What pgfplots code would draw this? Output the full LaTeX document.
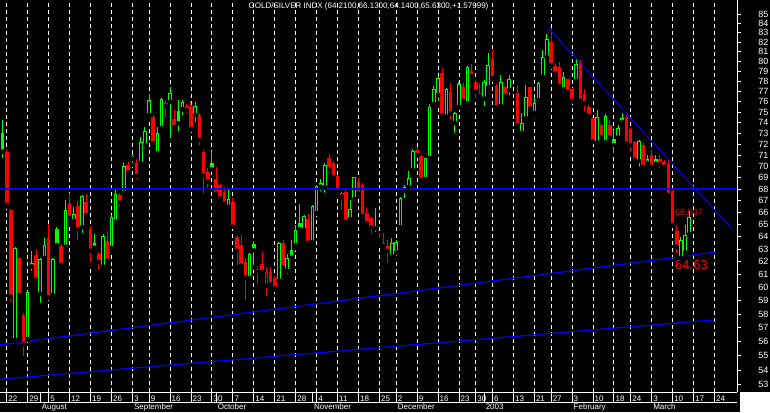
\documentclass[border=0pt]{standalone}
\usepackage{pgfplots}
\usepackage{pgfplotstable}
\pgfplotsset{compat=1.18}
\usepackage{fontspec}
\setmainfont{Liberation Sans}
\definecolor{cgreen}{RGB}{0,255,0}
\definecolor{cred}{RGB}{255,0,0}
\definecolor{cblue}{RGB}{0,0,255}
\pgfplotsset{
  wick/.style={only marks, mark=none, error bars/.cd, y dir=plus, y explicit, error mark=none, error bar style={line width=1pt, #1}},
  body/.style={only marks, mark=none, error bars/.cd, y dir=plus, y explicit, error mark=none, error bar style={line width=3.6pt, #1}},
  hole/.style={only marks, mark=none, error bars/.cd, y dir=plus, y explicit, error mark=none, error bar style={line width=1.6pt, black, shorten <=1pt, shorten >=1pt}},
}
\tikzset{month/.style={white, anchor=north west, inner sep=0pt, font=\fontsize{8}{9}\selectfont, xshift=1.5pt, yshift=-12pt}}
% green hollow: close > open
\pgfplotstableread{
x o h l c
3 56.13 63.15 56.06 63.07
6 56.20 59.74 56.13 59.64
7 61.62 62.88 61.12 61.89
9 59.51 62.30 58.68 62.20
10 62.28 63.93 62.14 63.34
12 59.41 62.30 59.28 62.20
15 63.20 67.08 63.15 66.22
17 65.33 66.46 64.97 65.89
19 64.78 67.51 64.15 67.37
24 61.62 64.23 61.35 64.07
26 63.07 65.81 62.93 65.61
27 65.25 68.00 65.14 67.60
29 67.70 70.28 67.68 70.04
31 70.70 71.13 70.13 70.95
33 70.28 72.71 70.22 72.19
34 71.91 73.64 71.42 73.24
35 74.74 76.76 74.55 76.18
37 71.19 73.64 70.97 73.02
38 73.49 76.35 73.33 76.25
40 76.02 77.43 72.40 76.84
43 75.29 76.18 74.52 76.02
46 74.74 76.02 73.89 75.60
54 66.50 67.93 66.33 67.17
59 60.70 62.70 60.50 62.60
66 60.54 63.60 60.50 63.46
68 61.30 62.60 60.90 62.28
70 63.34 64.97 63.07 64.57
72 64.57 65.80 64.35 65.70
74 63.53 66.65 63.40 66.57
75 65.95 68.37 65.90 68.28
77 68.17 70.28 67.52 70.13
83 65.45 67.03 65.33 66.28
84 67.15 69.10 66.78 69.04
89 64.70 66.42 64.23 64.92
93 62.42 63.90 62.35 63.47
94 62.73 63.74 62.28 63.60
95 64.78 67.34 64.70 67.23
96 67.85 68.37 67.03 68.22
97 68.17 69.63 67.76 68.95
98 69.69 71.55 69.60 71.42
101 68.87 70.80 68.70 70.74
102 70.74 75.80 70.60 75.50
103 75.80 77.55 75.38 77.23
104 76.67 78.55 75.90 78.32
106 74.58 77.36 74.46 77.23
108 74.01 75.03 72.86 74.96
109 75.53 77.95 75.45 77.75
111 75.86 79.55 75.80 79.42
115 76.35 78.15 75.38 77.98
116 77.43 80.90 77.36 79.65
119 75.60 78.65 75.50 77.98
121 77.16 78.65 76.45 78.22
124 73.08 74.96 72.86 74.00
125 74.43 77.65 74.35 76.45
127 74.96 76.50 74.60 75.86
128 76.18 77.95 76.10 77.82
129 78.50 81.20 78.40 80.43
130 80.43 82.90 80.35 82.30
134 77.23 78.98 76.70 78.42
137 78.08 80.35 77.90 79.76
142 72.17 75.20 72.10 74.60
144 72.17 74.80 72.10 74.65
147 72.65 73.80 72.50 73.50
152 70.50 72.40 69.80 72.27
154 70.30 71.00 70.10 70.70
162 62.28 64.00 62.20 63.75
163 62.73 64.97 62.40 64.15
164 64.21 66.13 64.14 65.63
}\gh
% green filled: close < open, above previous close
\pgfplotstableread{
x o h l c
0 73.08 74.27 70.58 71.34
13 64.64 64.78 63.07 63.34
22 63.47 64.23 63.05 63.12
42 75.12 76.18 73.02 73.96
50 70.34 71.42 69.69 69.77
60 63.41 63.65 61.55 62.93
69 62.93 63.75 62.30 62.33
71 65.11 66.75 64.40 64.65
76 68.52 68.87 67.66 68.22
146 72.45 73.30 71.04 71.95
148 74.43 74.96 74.00 74.10
156 70.70 71.00 70.10 70.25
}\gf
% red hollow
\pgfplotstableread{
x o h l c
63 60.14 61.55 59.18 61.17
81 67.32 67.79 66.00 67.71
114 76.58 77.82 76.18 76.90
}\rh
% red filled
\pgfplotstableread{
x o h l c
1 71.34 71.55 66.52 66.66
2 66.22 66.28 58.83 59.31
4 62.28 62.41 59.36 59.43
5 57.94 58.07 54.84 55.78
8 62.53 62.93 60.51 60.63
11 63.93 65.05 59.20 59.26
14 63.26 63.41 61.60 61.76
16 66.80 67.65 65.25 65.58
18 66.52 67.00 63.53 64.64
20 66.94 67.60 65.62 65.81
21 64.64 64.90 61.76 62.88
23 62.61 62.77 61.20 61.99
25 63.66 64.49 61.99 62.09
28 67.51 67.70 66.33 66.86
30 70.13 70.37 69.24 69.48
32 70.34 70.63 68.66 69.16
36 74.58 74.74 72.03 72.10
39 75.90 76.09 74.33 75.60
41 74.36 75.22 73.50 73.64
44 75.60 75.80 74.74 75.22
45 75.51 76.09 73.33 73.43
47 74.74 74.96 71.70 72.40
48 71.34 71.50 67.43 69.24
49 69.54 69.89 67.93 68.66
51 68.90 69.93 67.59 67.65
52 68.37 68.46 67.00 67.23
53 67.74 68.17 66.67 66.75
55 66.94 67.23 64.80 64.83
56 64.01 64.15 61.55 62.88
57 63.34 64.15 61.50 61.70
58 62.00 62.30 58.88 60.76
61 61.44 61.70 60.12 61.22
62 61.85 62.80 61.15 61.22
64 61.22 61.58 60.10 60.25
65 60.70 60.85 59.80 59.94
67 63.46 63.75 61.33 61.55
73 65.45 65.90 63.40 63.53
78 70.74 71.12 69.22 69.75
79 70.34 70.50 68.66 69.07
80 69.16 69.24 67.43 67.79
82 67.79 67.99 65.14 65.25
85 68.66 68.95 67.51 67.65
86 68.37 68.50 65.64 65.72
87 66.00 66.50 64.98 65.11
88 65.53 65.64 64.07 64.78
90 63.88 64.34 63.50 63.74
91 63.52 64.34 63.18 63.26
92 63.26 63.74 61.75 62.88
99 71.48 71.72 70.95 71.04
100 70.95 71.05 68.63 68.80
105 78.88 79.32 74.55 74.74
107 76.99 77.82 74.10 74.90
110 77.43 77.82 75.99 76.11
112 79.08 79.76 78.32 78.55
113 77.98 78.15 76.18 76.99
117 80.26 81.20 78.15 78.32
118 77.55 77.75 75.40 75.47
120 77.43 77.55 76.18 76.58
123 76.84 77.65 73.70 73.80
126 77.42 77.50 75.20 75.38
131 82.05 83.45 79.45 79.65
132 79.55 79.90 78.30 78.82
133 79.50 80.00 77.45 77.55
135 78.22 78.30 76.80 76.99
136 77.23 77.35 76.05 76.11
138 79.99 80.15 76.05 76.11
139 76.77 77.23 74.90 75.86
140 75.54 75.70 74.45 74.65
141 74.43 74.55 72.20 72.27
143 73.80 73.90 72.20 72.65
145 73.80 74.25 72.40 72.65
149 74.60 74.75 71.90 72.10
150 73.40 73.50 71.20 71.95
151 72.17 72.30 70.40 70.60
153 71.95 72.10 69.80 69.98
155 71.05 71.50 69.85 69.98
157 70.70 71.00 69.70 70.20
158 70.40 70.60 69.70 69.98
159 70.25 70.60 67.40 67.50
160 67.80 67.95 64.90 64.97
161 64.45 64.97 62.50 63.20
}\rf
\begin{document}
\begin{tikzpicture}
\useasboundingbox (0,0) rectangle (770pt,412pt);
\fill[black] (0,0) rectangle (770pt,412pt);
\fill[white] (740pt,0) rectangle (770pt,20pt);
\begin{axis}[
  at={(0pt,20pt)}, anchor=south west,
  scale only axis, width=737pt, height=392pt,
  xmin=-0.6, xmax=175.4,
  ymode=log, ymin=52.52, ymax=86.53,
  clip=false,
  axis x line*=bottom, axis y line*=right,
  axis line style={white, line width=0.8pt},
  tick align=outside,
  xtick={1,6,11,16,21,26,31,35,40,45,50,55,60,65,70,75,80,85,90,94,99,104,109,113,117,122,127,131,136,141,146,150,155,160,165,170},
  xticklabels={22,29,5,12,19,26,3,9,16,23,30,7,14,21,28,4,11,18,25,2,9,16,23,30,6,13,21,27,3,10,18,24,3,10,17,24},
  xmajorgrids,
  major grid style={white, line width=0.8pt, dash pattern=on 4pt off 3pt},
  xtick style={white, line width=0.8pt, /pgfplots/major tick length=10pt},
  xticklabel style={white, font=\fontsize{8}{9}\selectfont, anchor=north west, inner sep=0pt, xshift=1.5pt},
  extra x ticks={9,31,51,74,94,115,136,155},
  extra x tick labels={\mbox{},\mbox{},\mbox{},\mbox{},\mbox{},\mbox{},\mbox{},\mbox{}},
  extra x tick style={grid=none, /pgfplots/major tick length=20pt},
  ytick={53,54,55,56,57,58,59,60,61,62,63,64,65,66,67,68,69,70,71,72,73,74,75,76,77,78,79,80,81,82,83,84,85},
  yticklabels={53,54,55,56,57,58,59,60,61,62,63,64,65,66,67,68,69,70,71,72,73,74,75,76,77,78,79,80,81,82,83,84,85},
  yminorticks=false,
  ytick style={white, line width=0.8pt, /pgfplots/major tick length=4pt},
  yticklabel style={white, font=\fontsize{9}{10}\selectfont, anchor=west, inner sep=0pt, xshift=17pt},
]
% wicks
\addplot[wick=cgreen] table[x=x, y=l, y error plus expr=\thisrow{h}-\thisrow{l}] {\gh};
\addplot[wick=cgreen] table[x=x, y=l, y error plus expr=\thisrow{h}-\thisrow{l}] {\gf};
\addplot[wick=cred] table[x=x, y=l, y error plus expr=\thisrow{h}-\thisrow{l}] {\rf};
\addplot[wick=cred] table[x=x, y=l, y error plus expr=\thisrow{h}-\thisrow{l}] {\rh};
% bodies
\addplot[body=cgreen] table[x=x, y=o, y error plus expr=\thisrow{c}-\thisrow{o}] {\gh};
\addplot[hole] table[x=x, y=o, y error plus expr=\thisrow{c}-\thisrow{o}] {\gh};
\addplot[body=cgreen] table[x=x, y=c, y error plus expr=\thisrow{o}-\thisrow{c}] {\gf};
\addplot[body=cred] table[x=x, y=c, y error plus expr=\thisrow{o}-\thisrow{c}] {\rf};
\addplot[body=cred] table[x=x, y=o, y error plus expr=\thisrow{c}-\thisrow{o}] {\rh};
\addplot[hole] table[x=x, y=o, y error plus expr=\thisrow{c}-\thisrow{o}] {\rh};
% trend lines
\addplot[cblue, line width=2pt] coordinates {(-0.6,68.007) (175.4,68.007)};
\addplot[cblue, line width=1pt] coordinates {(130.4,83.47) (174.2,64.64)};
\addplot[cblue, line width=1.2pt] coordinates {(-0.6,55.77) (170.2,62.76)};
\addplot[cblue, line width=1.2pt] coordinates {(-0.6,53.38) (169.9,57.57)};
\node[cred, anchor=west, inner sep=0pt, font=\fontsize{9}{10}\selectfont] at (axis cs:160.6,66.02) {68.007};
\node[cred, anchor=west, inner sep=0pt, font=\fontsize{13}{14}\selectfont] at (axis cs:160.6,61.73) {64.63};
\node[white, anchor=center, inner sep=0pt, font=\fontsize{8}{9}\selectfont] at (rel axis cs:0.5,1) [yshift=-6.7pt] {GOLD/SILVER INDX (64.2100,66.1300,64.1400,65.6300,+1.57999)};
% month names under the day numbers
\node[month] at (axis cs:9,52.52) {August};
\node[month] at (axis cs:31,52.52) {September};
\node[month] at (axis cs:51,52.52) {October};
\node[month] at (axis cs:74,52.52) {November};
\node[month] at (axis cs:94,52.52) {December};
\node[month] at (axis cs:115,52.52) {2003};
\node[month] at (axis cs:136,52.52) {February};
\node[month] at (axis cs:155,52.52) {March};
\end{axis}
\draw[white, line width=0.8pt] (0,10pt) -- (737pt,10pt);
\end{tikzpicture}
\end{document}
